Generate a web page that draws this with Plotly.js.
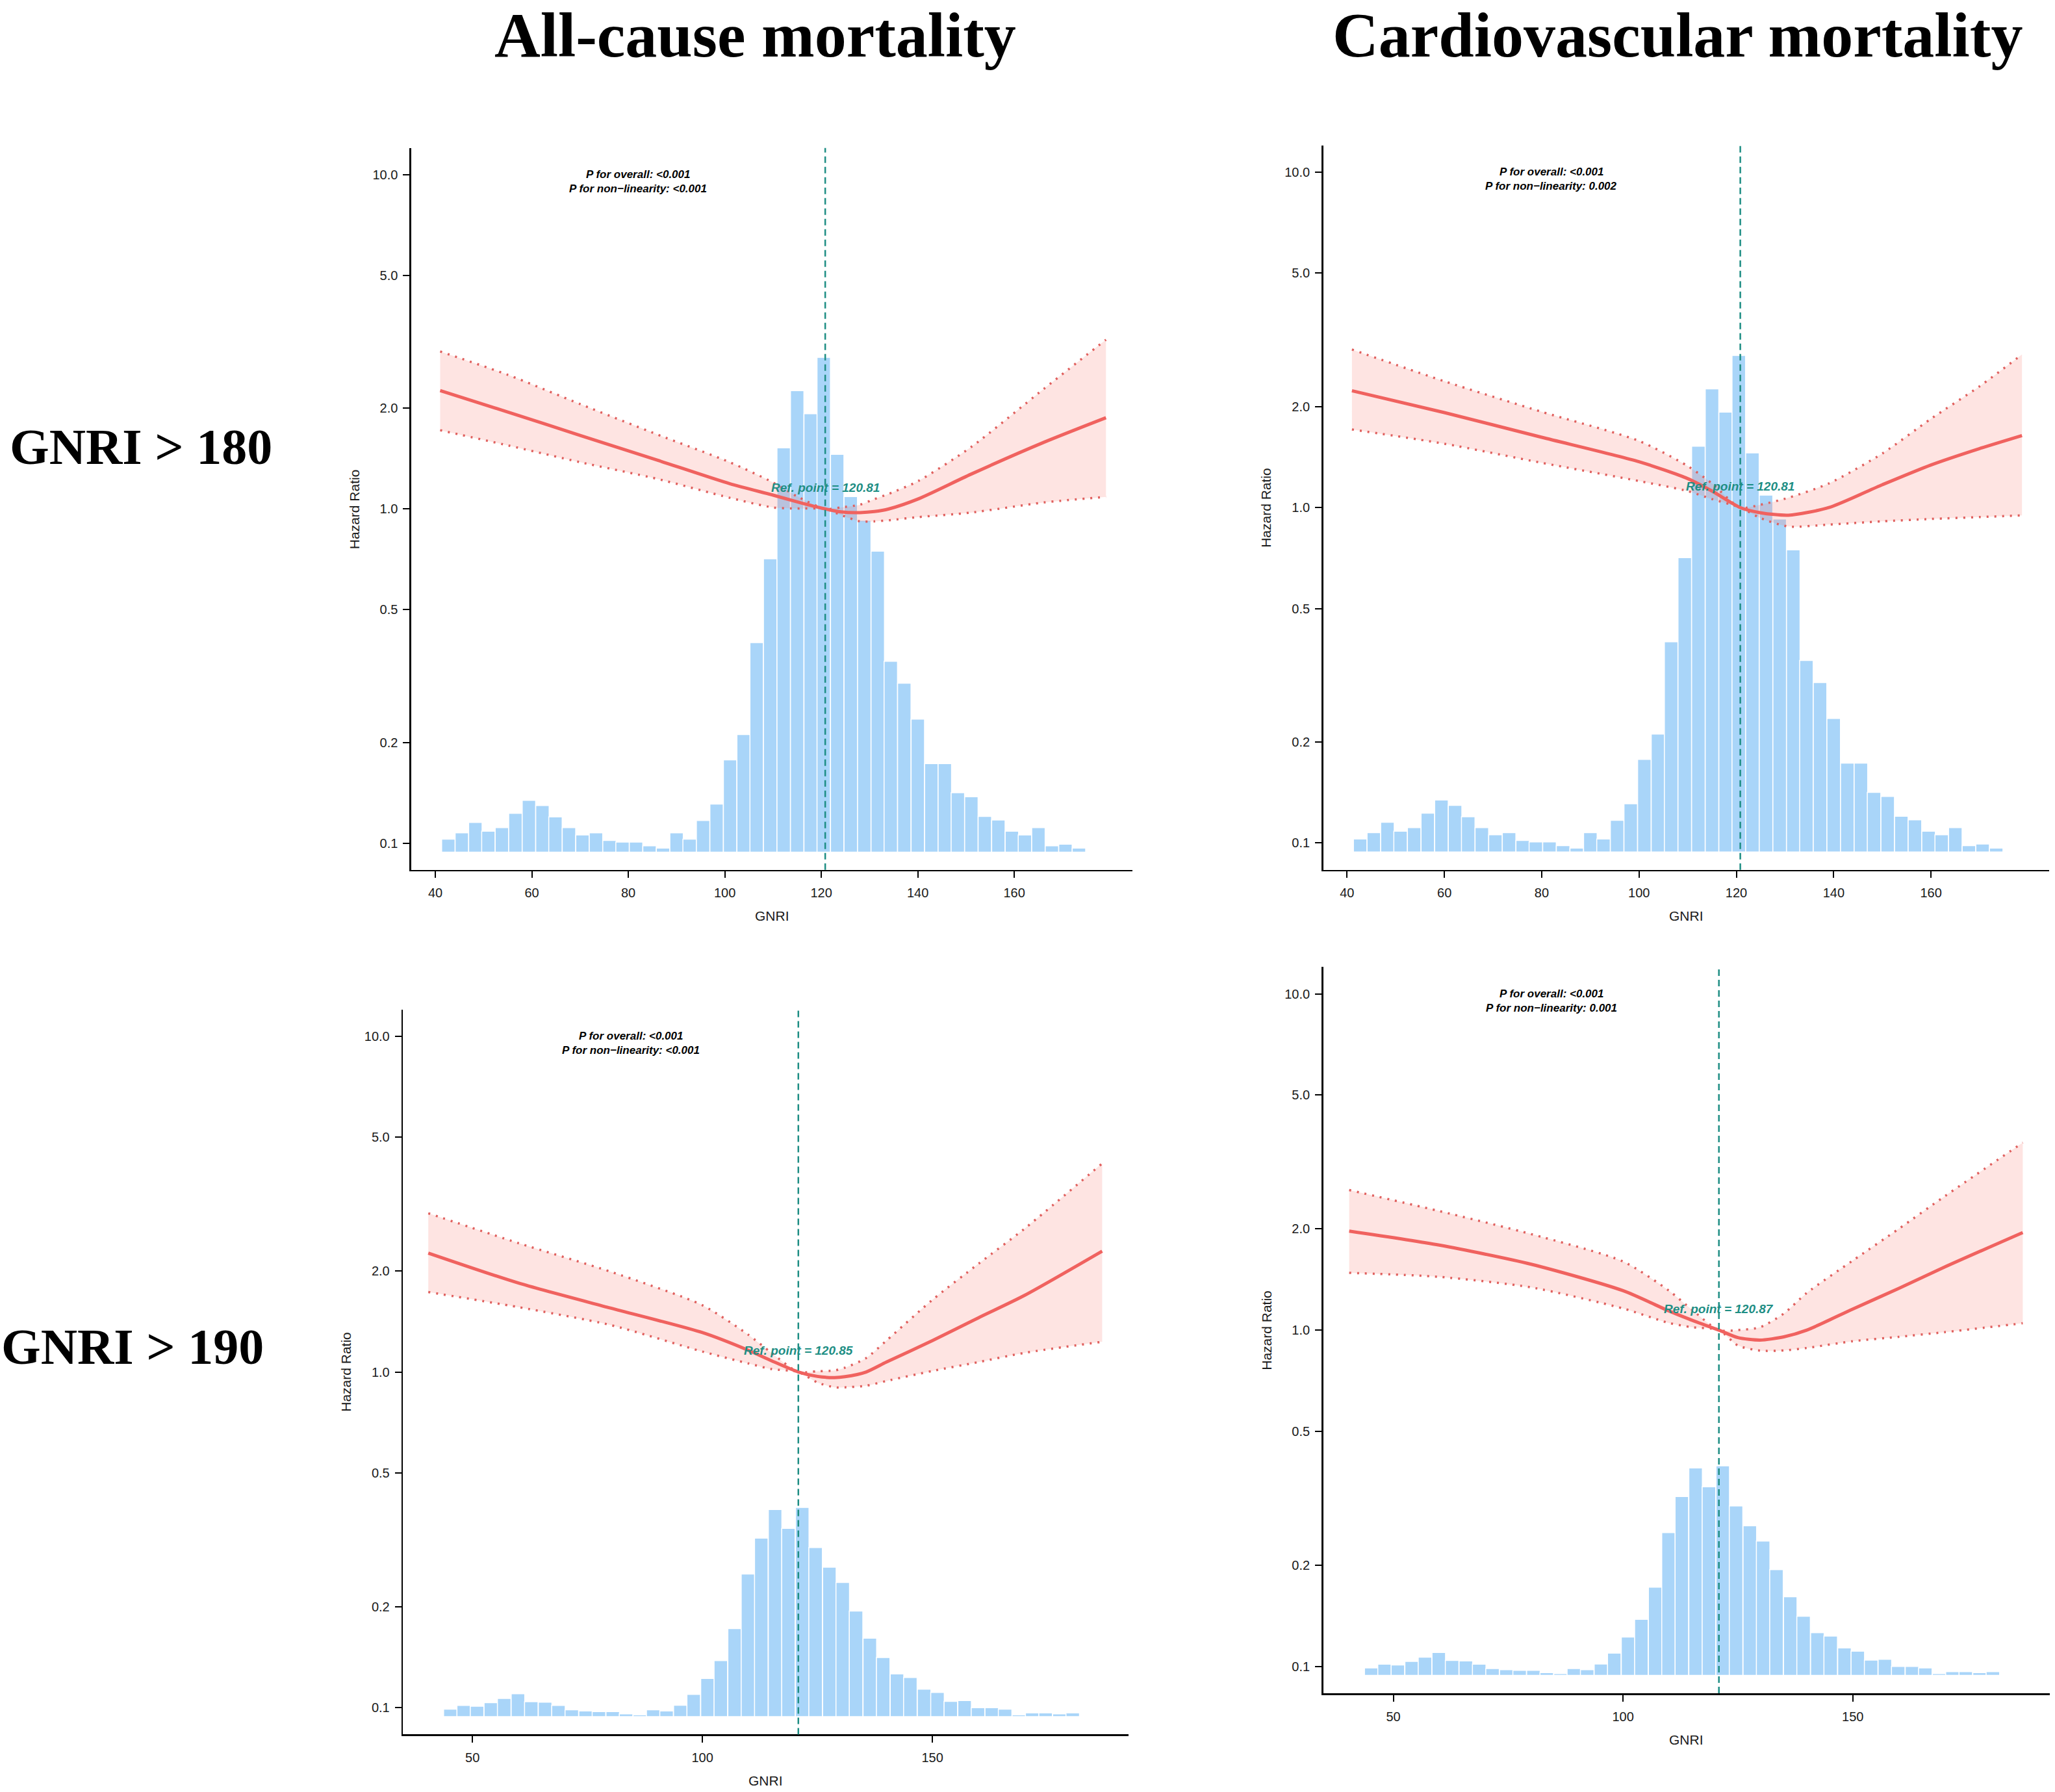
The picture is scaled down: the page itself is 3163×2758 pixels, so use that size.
<!DOCTYPE html>
<html>
<head>
<meta charset="utf-8">
<script src="https://cdn.plot.ly/plotly-3.0.1.min.js"></script>
<style>
  body { margin: 0; background: #fff; }
  #myDiv { width: 3163px; height: 2758px; }
</style>
</head>
<body>
<div id="myDiv"></div>
<script>
// column / row headings
const colTitles = ['All-cause mortality', 'Cardiovascular mortality'];
const rowTitles = ['GNRI > 180', 'GNRI > 190'];

// reference points and p values, panel order: TL, TR, BL, BR
const refPoints = [120.81, 120.81, 120.85, 120.87];
const pOverall = ['<0.001', '<0.001', '<0.001', '<0.001'];
const pNonlin = ['<0.001', '0.002', '<0.001', '0.001'];

// GNRI distribution, top row (GNRI > 180): bin centres and bar tops on the HR scale
const histTopWidth = 2.78;
const histTopMid = [42.7, 45.5, 48.3, 51.0, 53.8, 56.6, 59.4, 62.2, 64.9, 67.7, 70.5, 73.3,
  76.1, 78.8, 81.6, 84.4, 87.2, 90.0, 92.7, 95.5, 98.3, 101.1, 103.9, 106.6, 109.4, 112.2,
  115.0, 117.8, 120.5, 123.3, 126.1, 128.9, 131.7, 134.4, 137.2, 140.0, 142.8, 145.6, 148.3,
  151.1, 153.9, 156.7, 159.5, 162.2, 165.0, 167.8, 170.6, 173.4];
const histTopVal = [0.1028, 0.1074, 0.1153, 0.1085, 0.1112, 0.1228, 0.1343, 0.1295, 0.1198,
  0.1112, 0.1058, 0.1074, 0.1018, 0.1007, 0.1007, 0.0982, 0.0966, 0.1074, 0.1028, 0.1169,
  0.1309, 0.1775, 0.2113, 0.398, 0.709, 1.524, 2.259, 1.926, 2.843, 1.456, 1.089, 0.925,
  0.748, 0.350, 0.301, 0.235, 0.173, 0.173, 0.1415, 0.1376, 0.1202, 0.1173, 0.1085, 0.1058,
  0.1112, 0.0982, 0.0993, 0.0966];

// GNRI distribution, bottom row (GNRI > 190)
const histBotWidth = 2.94;
const histBotMid = [45.2, 48.1, 51.0, 54.0, 56.9, 59.9, 62.8, 65.8, 68.7, 71.6, 74.6, 77.5,
  80.5, 83.4, 86.4, 89.3, 92.2, 95.2, 98.1, 101.1, 104.0, 107.0, 109.9, 112.8, 115.8, 118.7,
  121.7, 124.6, 127.6, 130.5, 133.4, 136.4, 139.3, 142.3, 145.2, 148.2, 151.1, 154.0, 157.0,
  159.9, 162.9, 165.8, 168.8, 171.7, 174.6, 177.6, 180.5];
const histBotVal = [0.099, 0.1015, 0.101, 0.1035, 0.1065, 0.110, 0.1042, 0.1038, 0.1015,
  0.0985, 0.0978, 0.0973, 0.0973, 0.0958, 0.0952, 0.0985, 0.0978, 0.1016, 0.1095, 0.1222,
  0.138, 0.172, 0.25, 0.32, 0.389, 0.342, 0.395, 0.30, 0.262, 0.236, 0.194, 0.161, 0.141,
  0.126, 0.123, 0.1135, 0.111, 0.1044, 0.105, 0.100, 0.100, 0.099, 0.0952, 0.0965, 0.0965,
  0.0958, 0.0965];
const histBase = 0.094;

// restricted cubic spline fits: hazard ratio with 95% CI
const tlGnri  = [41, 55, 70, 86, 101, 110, 115, 120.81, 124, 128, 131, 134, 140, 151, 166, 179];
const tlHr    = [2.26, 1.95, 1.66, 1.40, 1.19, 1.10, 1.05, 1.00, 0.98, 0.975, 0.982, 1.00, 1.07, 1.27, 1.58, 1.875];
const tlLower = [1.72, 1.55, 1.38, 1.23, 1.08, 1.01, 1.003, 1.00, 0.96, 0.918, 0.918, 0.925, 0.945, 0.975, 1.045, 1.087];
const tlUpper = [2.96, 2.52, 2.06, 1.67, 1.38, 1.20, 1.09, 1.00, 1.01, 1.03, 1.07, 1.11, 1.21, 1.53, 2.28, 3.21];

const trGnri  = [41, 60, 80, 100, 110, 115, 120.81, 125, 130.7, 139, 150, 160, 170, 178.7];
const trHr    = [2.23, 1.92, 1.62, 1.37, 1.22, 1.12, 1.00, 0.965, 0.949, 1.00, 1.17, 1.34, 1.50, 1.64];
const trLower = [1.71, 1.55, 1.36, 1.20, 1.12, 1.06, 1.00, 0.93, 0.878, 0.89, 0.91, 0.925, 0.937, 0.948];
const trUpper = [2.96, 2.38, 1.93, 1.58, 1.33, 1.18, 1.00, 1.02, 1.07, 1.18, 1.45, 1.84, 2.30, 2.86];

const blGnri  = [40.4, 60, 80, 100, 110, 115, 120.85, 125, 128.7, 131, 135.6, 140, 150, 160, 170, 186.9];
const blHr    = [2.26, 1.84, 1.55, 1.31, 1.16, 1.08, 1.00, 0.97, 0.962, 0.968, 1.00, 1.07, 1.24, 1.45, 1.69, 2.29];
const blLower = [1.73, 1.56, 1.38, 1.15, 1.06, 1.02, 1.00, 0.93, 0.90, 0.90, 0.91, 0.94, 1.007, 1.07, 1.14, 1.23];
const blUpper = [2.97, 2.42, 1.99, 1.58, 1.29, 1.14, 1.00, 1.005, 1.01, 1.03, 1.10, 1.24, 1.64, 2.10, 2.67, 4.18];

const brGnri  = [40.4, 60, 80, 100, 110, 115, 120.87, 125, 129.8, 135, 140, 150, 160, 170, 187];
const brHr    = [1.97, 1.79, 1.57, 1.31, 1.14, 1.07, 1.00, 0.95, 0.934, 0.955, 1.00, 1.155, 1.33, 1.54, 1.95];
const brLower = [1.48, 1.44, 1.34, 1.16, 1.05, 1.02, 1.00, 0.90, 0.869, 0.87, 0.885, 0.927, 0.955, 0.986, 1.048];
const brUpper = [2.61, 2.26, 1.93, 1.60, 1.31, 1.15, 1.00, 1.00, 1.02, 1.12, 1.29, 1.61, 2.00, 2.50, 3.61];

// axis ticks
const hrTicks = [0.1, 0.2, 0.5, 1, 2, 5, 10];
const hrTickText = ['0.1', '0.2', '0.5', '1.0', '2.0', '5.0', '10.0'];
const gnriTicksTop = [40, 60, 80, 100, 120, 140, 160];
const gnriTicksBot = [50, 100, 150];

const RED = '#F0625F';
const TEAL = '#1E8E84';
const BLUE = '#A9D5F9';
const SANS = 'Liberation Sans, Arial, sans-serif';
const SERIF = 'Liberation Serif, Times New Roman, serif';

const panels = [
  { gnri: tlGnri, hr: tlHr, lo: tlLower, hi: tlUpper, mid: histTopMid, val: histTopVal, w: histTopWidth,
    xd: [0.2001, 0.5511], yd: [0.5146, 0.9174], xr: [35, 184.5], ticks: gnriTicksTop },
  { gnri: trGnri, hr: trHr, lo: trLower, hi: trUpper, mid: histTopMid, val: histTopVal, w: histTopWidth,
    xd: [0.6439, 0.9972], yd: [0.5146, 0.9189], xr: [35.1, 184.3], ticks: gnriTicksTop },
  { gnri: blGnri, hr: blHr, lo: blLower, hi: blUpper, mid: histBotMid, val: histBotVal, w: histBotWidth,
    xd: [0.1961, 0.5492], yd: [0.0321, 0.4367], xr: [34.9, 192.65], ticks: gnriTicksBot },
  { gnri: brGnri, hr: brHr, lo: brLower, hi: brUpper, mid: histBotMid, val: histBotVal, w: histBotWidth,
    xd: [0.6439, 0.9975], yd: [0.0551, 0.4604], xr: [34.75, 192.9], ticks: gnriTicksBot }
];

const data = [];
const shapes = [];
const annotations = [];
const layout = {
  width: 3163, height: 2758,
  margin: { l: 0, r: 0, t: 0, b: 0 },
  paper_bgcolor: '#fff', plot_bgcolor: 'rgba(0,0,0,0)',
  showlegend: false,
  font: { family: SANS, size: 20, color: '#111' }
};

panels.forEach(function (p, i) {
  const n = i === 0 ? '' : String(i + 1);
  const xa = 'x' + n, ya = 'y' + n;

  // histogram of GNRI in background (bar length = top - base)
  data.push({
    type: 'bar', x: p.mid, y: p.val.map(v => v - histBase), base: histBase, width: p.w,
    marker: { color: BLUE, line: { color: '#fff', width: 1.5 } },
    xaxis: xa, yaxis: ya, hoverinfo: 'skip'
  });
  // CI ribbon
  data.push({
    type: 'scatter', mode: 'lines', x: p.gnri, y: p.hi,
    line: { color: '#E0605E', width: 3.5, dash: '3px,9px', shape: 'spline', smoothing: 0.7 },
    xaxis: xa, yaxis: ya
  });
  data.push({
    type: 'scatter', mode: 'lines', x: p.gnri, y: p.lo, fill: 'tonexty',
    fillcolor: 'rgba(248,118,109,0.2)',
    line: { color: '#E0605E', width: 3.5, dash: '3px,9px', shape: 'spline', smoothing: 0.7 },
    xaxis: xa, yaxis: ya
  });
  // hazard ratio curve
  data.push({
    type: 'scatter', mode: 'lines', x: p.gnri, y: p.hr,
    line: { color: RED, width: 5, shape: 'spline', smoothing: 0.7 },
    xaxis: xa, yaxis: ya
  });

  layout['xaxis' + n] = {
    domain: p.xd, anchor: ya, range: p.xr, tickvals: p.ticks,
    showline: true, linecolor: '#000', linewidth: 2.5,
    ticks: 'outside', ticklen: 10, tickwidth: 2, tickcolor: '#000',
    ticklabelstandoff: 6,
    showgrid: false, zeroline: false,
    tickfont: { family: SANS, size: 20, color: '#1a1a1a' }
  };
  layout['yaxis' + n] = {
    domain: p.yd, anchor: xa, type: 'log', range: [-1.08, 1.08],
    tickvals: hrTicks, ticktext: hrTickText,
    showline: true, linecolor: '#000', linewidth: 2.5,
    ticks: 'outside', ticklen: 10, tickwidth: 2, tickcolor: '#000',
    ticklabelstandoff: 4,
    showgrid: false, zeroline: false,
    tickfont: { family: SANS, size: 20, color: '#1a1a1a' }
  };

  // reference lines: HR = 1 and the reference GNRI
  shapes.push({
    type: 'line', xref: xa + ' domain', x0: 0, x1: 1, yref: ya, y0: Math.log10(1), y1: Math.log10(1),
    line: { color: TEAL, width: 2.5, dash: '10px,6px' }
  });
  shapes.push({
    type: 'line', xref: xa, x0: refPoints[i], x1: refPoints[i], yref: ya + ' domain', y0: 0, y1: 1,
    line: { color: TEAL, width: 2.5, dash: '10px,6px' }
  });

  // texts
  annotations.push({
    xref: xa + ' domain', x: 0.314, yref: ya, y: Math.log10(10), showarrow: false,
    xanchor: 'center', yanchor: 'middle',
    text: '<b><i>P for overall: ' + pOverall[i].replace('<', '&lt;') + '</i></b>',
    font: { family: SANS, size: 17, color: '#000' }
  });
  annotations.push({
    xref: xa + ' domain', x: 0.314, yref: ya, y: Math.log10(10), yshift: -22, showarrow: false,
    xanchor: 'center', yanchor: 'middle',
    text: '<b><i>P for non\u2212linearity: ' + pNonlin[i].replace('<', '&lt;') + '</i></b>',
    font: { family: SANS, size: 17, color: '#000' }
  });
  annotations.push({
    xref: xa, x: refPoints[i], yref: ya, y: 0.063, showarrow: false,
    xanchor: 'center', yanchor: 'middle',
    text: '<b><i>Ref. point = ' + refPoints[i].toFixed(2) + '</i></b>',
    font: { family: SANS, size: 19, color: TEAL }
  });
  annotations.push({
    xref: xa + ' domain', x: 0, xshift: -88, yref: ya + ' domain', y: 0.5, showarrow: false,
    xanchor: 'center', yanchor: 'middle', textangle: -90,
    text: 'Hazard Ratio', font: { family: SANS, size: 21, color: '#1a1a1a' }
  });
  annotations.push({
    xref: xa + ' domain', x: 0.5, yref: ya + ' domain', y: 0, yshift: -71, showarrow: false,
    xanchor: 'center', yanchor: 'middle',
    text: 'GNRI', font: { family: SANS, size: 21, color: '#1a1a1a' }
  });
});

// column titles (kept inside the top edge)
[0.3674, 0.8163].forEach(function (x, j) {
  annotations.push({
    xref: 'paper', yref: 'paper', x: x, y: 1, showarrow: false,
    xanchor: 'center', yanchor: 'top', yshift: 2,
    text: '<b>' + colTitles[j] + '</b>', font: { family: SERIF, size: 98, color: '#000' }
  });
});
// row titles
[[0.0685, 0.7509], [0.0645, 0.2487]].forEach(function (pos, j) {
  annotations.push({
    xref: 'paper', yref: 'paper', x: pos[0], y: pos[1], showarrow: false,
    xanchor: 'center', yanchor: 'middle',
    text: '<b>' + rowTitles[j].replace('>', '&gt;') + '</b>', font: { family: SERIF, size: 78, color: '#000' }
  });
});

layout.shapes = shapes;
layout.annotations = annotations;

Plotly.newPlot('myDiv', data, layout, { staticPlot: true, displayModeBar: false });
</script>
</body>
</html>
